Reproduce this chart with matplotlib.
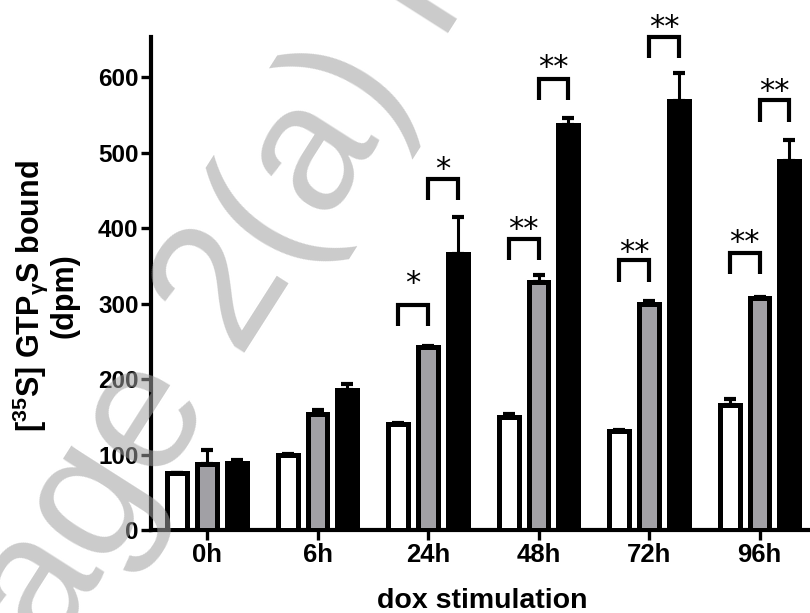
import matplotlib
matplotlib.use("Agg")
import matplotlib.pyplot as plt
import numpy as np

plt.rcParams['font.family'] = ['Liberation Sans', 'DejaVu Sans']
plt.rcParams['font.weight'] = 'bold'
plt.rcParams['mathtext.fontset'] = 'custom'
plt.rcParams['mathtext.rm'] = 'Liberation Sans:bold'
plt.rcParams['mathtext.bf'] = 'Liberation Sans:bold'
plt.rcParams['mathtext.it'] = 'Liberation Sans'
plt.rcParams['mathtext.sf'] = 'Liberation Sans:bold'

# ---- data ----
categories = ['0h', '6h', '24h', '48h', '72h', '96h']
white_vals = [76, 100, 140, 150, 131, 165]
white_err = [0, 1, 2, 3, 2, 8]
gray_vals = [88, 153, 242, 328, 300, 307]
gray_err = [18, 6, 2, 10, 3, 2]
black_vals = [89, 186, 365, 536, 568, 489]
black_err = [4, 7, 49, 10, 37, 27]
yticks = [0, 100, 200, 300, 400, 500, 600]

# significance brackets: (group index, left bar index, bracket top, label, star height)
brk_group = [2, 2, 3, 3, 4, 4, 5, 5]
brk_left = [0, 1, 0, 1, 0, 1, 0, 1]
brk_top = [298, 465, 386, 598, 357, 653, 367, 569]
brk_label = ['*', '*', '**', '**', '**', '**', '**', '**']
brk_star = [339, 490, 411, 625, 380, 678, 393, 593]

# ---- figure ----
fig = plt.figure(figsize=(8.10, 6.13), dpi=100)
ax = fig.add_axes([151 / 810, 83 / 613, 659 / 810, 493 / 613])

x = np.arange(len(categories))
offsets = [-0.27, 0.0, 0.27]
width = 0.18
series = [(white_vals, white_err, 'white'),
          (gray_vals, gray_err, '#a1a0a5'),
          (black_vals, black_err, 'black')]
for (vals, err, col), off in zip(series, offsets):
    ax.bar(x + off, vals, width=width, color=col, edgecolor='black',
           linewidth=3.6, zorder=3)
    ax.errorbar(x + off, vals, yerr=[np.zeros(len(vals)), err], fmt='none',
                ecolor='black', elinewidth=2.2, capsize=4, capthick=3,
                zorder=4)

leg_h = 28
fs_star = 22
for g, l, top, lab, sy in zip(brk_group, brk_left, brk_top, brk_label, brk_star):
    x1 = g + offsets[l]
    x2 = g + offsets[l + 1]
    ax.plot([x1, x1, x2, x2], [top - leg_h, top, top, top - leg_h],
            color='black', lw=3, clip_on=False, zorder=5,
            solid_joinstyle='miter', solid_capstyle='butt')
    ax.annotate(lab, xy=((x1 + x2) / 2, sy), xytext=(0, -0.59 * fs_star),
                textcoords='offset points', ha='center', va='baseline',
                fontsize=fs_star, fontfamily='DejaVu Sans',
                fontweight='normal', annotation_clip=False, zorder=6)

ax.set_xlim(-0.507, 5.457)
ax.set_ylim(0, 653)
ax.set_xticks(x)
ax.set_xticklabels(categories, fontsize=18.5, fontweight='bold')
ax.set_yticks(yticks)
ax.set_yticklabels([str(v) for v in yticks], fontsize=17.5, fontweight='bold')
ax.tick_params(axis='both', length=7, width=2.4, color='black')
ax.tick_params(axis='x', pad=2)
ax.tick_params(axis='y', pad=2)
for s in ['top', 'right']:
    ax.spines[s].set_visible(False)
for s in ['left', 'bottom']:
    ax.spines[s].set_linewidth(3)

fig.text(45 / 810, 1 - 296 / 613,
         '[$^{35}$S] GTP$_{\\gamma}$S bound\n(dpm)',
         rotation=90, ha='center', va='center', fontsize=22,
         fontweight='bold', linespacing=1.02, multialignment='center')
fig.text(482 / 810, 1 - 588 / 613, 'dox stimulation', ha='center', va='top',
         fontsize=20.5, fontweight='bold')

# watermark
fig.text(-13 / 810, 1 - 758 / 613, 'Page 2(a) I', rotation=57.5,
         rotation_mode='anchor', ha='left', va='baseline',
         fontsize=130, fontweight='normal',
         color='#a0a0a0', alpha=0.55, zorder=10)

fig.savefig('out.png', dpi=100)
